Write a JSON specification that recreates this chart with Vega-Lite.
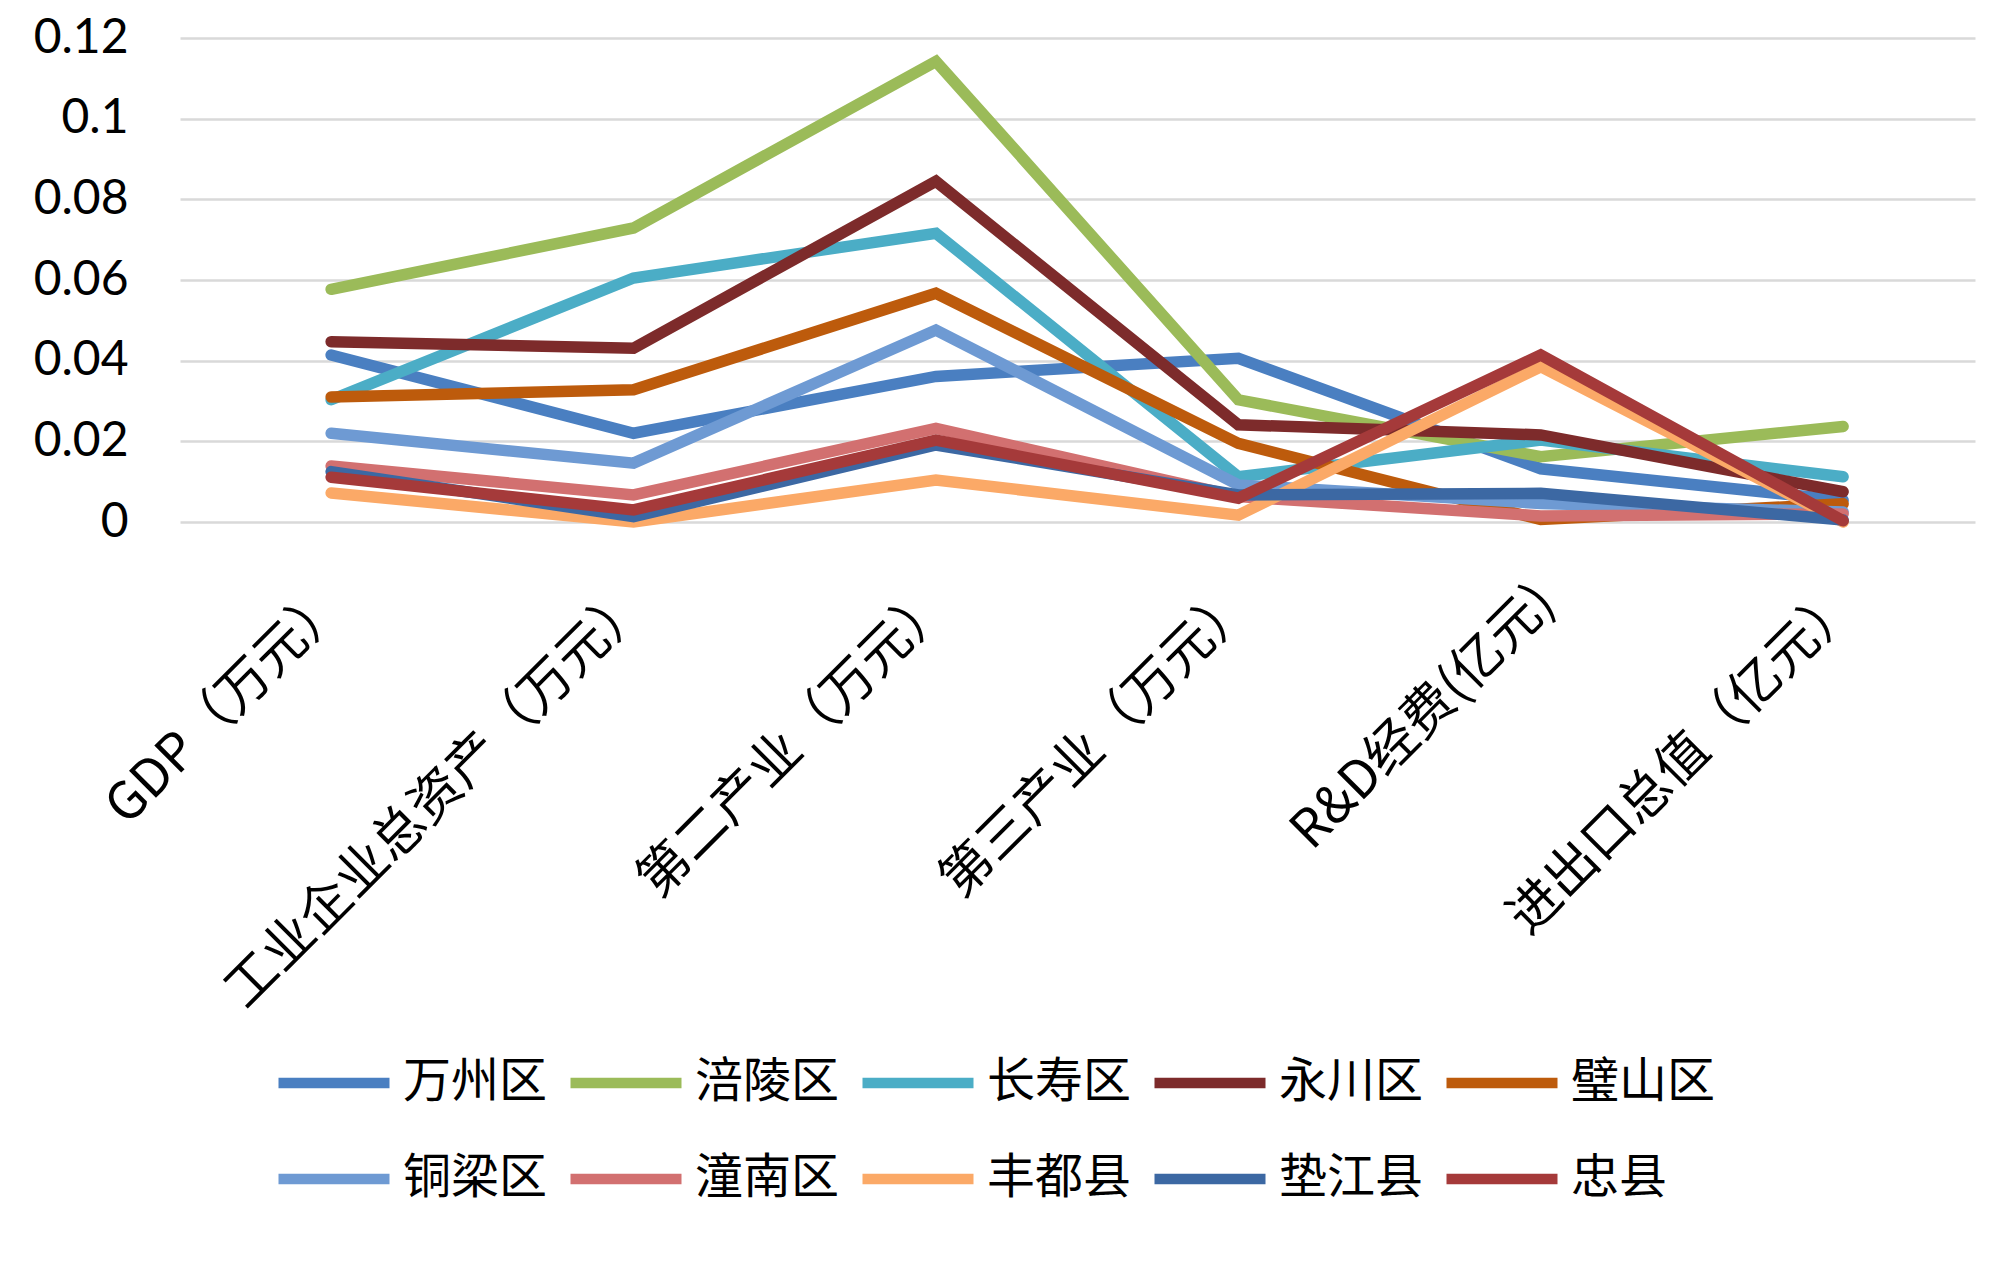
{
  "$schema": "https://vega.github.io/schema/vega-lite/v6.json",
  "autosize": {"type": "none"},
  "width": 1795,
  "height": 484,
  "padding": {"left": 180, "top": 38, "right": 25, "bottom": 743},
  "background": "white",
  "config": {
    "view": {"stroke": null},
    "font": "Noto Sans CJK SC"
  },
  "data": {
    "values": [
      {"region": "万州区", "category": "GDP（万元）", "value": 0.0414},
      {"region": "万州区", "category": "工业企业总资产（万元）", "value": 0.022},
      {"region": "万州区", "category": "第二产业（万元）", "value": 0.0361},
      {"region": "万州区", "category": "第三产业（万元）", "value": 0.0406},
      {"region": "万州区", "category": "R&D经费(亿元)", "value": 0.0132},
      {"region": "万州区", "category": "进出口总值（亿元）", "value": 0.0054},
      {"region": "涪陵区", "category": "GDP（万元）", "value": 0.0577},
      {"region": "涪陵区", "category": "工业企业总资产（万元）", "value": 0.0729},
      {"region": "涪陵区", "category": "第二产业（万元）", "value": 0.1142},
      {"region": "涪陵区", "category": "第三产业（万元）", "value": 0.0303},
      {"region": "涪陵区", "category": "R&D经费(亿元)", "value": 0.0162},
      {"region": "涪陵区", "category": "进出口总值（亿元）", "value": 0.0237},
      {"region": "长寿区", "category": "GDP（万元）", "value": 0.0303},
      {"region": "长寿区", "category": "工业企业总资产（万元）", "value": 0.0605},
      {"region": "长寿区", "category": "第二产业（万元）", "value": 0.0716},
      {"region": "长寿区", "category": "第三产业（万元）", "value": 0.0112},
      {"region": "长寿区", "category": "R&D经费(亿元)", "value": 0.0203},
      {"region": "长寿区", "category": "进出口总值（亿元）", "value": 0.0112},
      {"region": "永川区", "category": "GDP（万元）", "value": 0.0447},
      {"region": "永川区", "category": "工业企业总资产（万元）", "value": 0.0431},
      {"region": "永川区", "category": "第二产业（万元）", "value": 0.0845},
      {"region": "永川区", "category": "第三产业（万元）", "value": 0.0241},
      {"region": "永川区", "category": "R&D经费(亿元)", "value": 0.0216},
      {"region": "永川区", "category": "进出口总值（亿元）", "value": 0.0075},
      {"region": "璧山区", "category": "GDP（万元）", "value": 0.031},
      {"region": "璧山区", "category": "工业企业总资产（万元）", "value": 0.0328},
      {"region": "璧山区", "category": "第二产业（万元）", "value": 0.0567},
      {"region": "璧山区", "category": "第三产业（万元）", "value": 0.0195},
      {"region": "璧山区", "category": "R&D经费(亿元)", "value": 0.0006},
      {"region": "璧山区", "category": "进出口总值（亿元）", "value": 0.0045},
      {"region": "铜梁区", "category": "GDP（万元）", "value": 0.022},
      {"region": "铜梁区", "category": "工业企业总资产（万元）", "value": 0.0146},
      {"region": "铜梁区", "category": "第二产业（万元）", "value": 0.0476},
      {"region": "铜梁区", "category": "第三产业（万元）", "value": 0.0092},
      {"region": "铜梁区", "category": "R&D经费(亿元)", "value": 0.0046},
      {"region": "铜梁区", "category": "进出口总值（亿元）", "value": 0.0025},
      {"region": "潼南区", "category": "GDP（万元）", "value": 0.0139},
      {"region": "潼南区", "category": "工业企业总资产（万元）", "value": 0.0067},
      {"region": "潼南区", "category": "第二产业（万元）", "value": 0.0232},
      {"region": "潼南区", "category": "第三产业（万元）", "value": 0.0063},
      {"region": "潼南区", "category": "R&D经费(亿元)", "value": 0.0015},
      {"region": "潼南区", "category": "进出口总值（亿元）", "value": 0.002},
      {"region": "丰都县", "category": "GDP（万元）", "value": 0.0072},
      {"region": "丰都县", "category": "工业企业总资产（万元）", "value": 0.0},
      {"region": "丰都县", "category": "第二产业（万元）", "value": 0.0104},
      {"region": "丰都县", "category": "第三产业（万元）", "value": 0.0017},
      {"region": "丰都县", "category": "R&D经费(亿元)", "value": 0.0385},
      {"region": "丰都县", "category": "进出口总值（亿元）", "value": 0.0},
      {"region": "垫江县", "category": "GDP（万元）", "value": 0.0125},
      {"region": "垫江县", "category": "工业企业总资产（万元）", "value": 0.0013},
      {"region": "垫江县", "category": "第二产业（万元）", "value": 0.0191},
      {"region": "垫江县", "category": "第三产业（万元）", "value": 0.0067},
      {"region": "垫江县", "category": "R&D经费(亿元)", "value": 0.0071},
      {"region": "垫江县", "category": "进出口总值（亿元）", "value": 0.0005},
      {"region": "忠县", "category": "GDP（万元）", "value": 0.0111},
      {"region": "忠县", "category": "工业企业总资产（万元）", "value": 0.003},
      {"region": "忠县", "category": "第二产业（万元）", "value": 0.0203},
      {"region": "忠县", "category": "第三产业（万元）", "value": 0.0059},
      {"region": "忠县", "category": "R&D经费(亿元)", "value": 0.0414},
      {"region": "忠县", "category": "进出口总值（亿元）", "value": 0.0003}
    ]
  },
  "mark": {"type": "line", "strokeWidth": 11.5, "strokeCap": "round"},
  "encoding": {
    "x": {
      "field": "category",
      "type": "nominal",
      "sort": ["GDP（万元）", "工业企业总资产（万元）", "第二产业（万元）", "第三产业（万元）", "R&D经费(亿元)", "进出口总值（亿元）"],
      "scale": {"type": "point", "padding": 0.468, "align": 0.534},
      "axis": {
        "title": null,
        "domain": false,
        "ticks": false,
        "labelAngle": -45,
        "labelAlign": "right",
        "labelBaseline": "middle",
        "labelPadding": 72,
        "labelOffset": 5,
        "labelFont": "Noto Sans CJK SC",
        "labelFontSize": 52,
        "labelColor": "#000000",
        "labelLimit": 1000
      }
    },
    "y": {
      "field": "value",
      "type": "quantitative",
      "scale": {"domain": [0, 0.12], "nice": false, "zero": true},
      "axis": {
        "title": null,
        "values": [0, 0.02, 0.04, 0.06, 0.08, 0.1, 0.12],
        "format": ".2~f",
        "domain": false,
        "ticks": false,
        "grid": true,
        "gridColor": "#D9D9D9",
        "gridWidth": 2.5,
        "labelPadding": 52,
        "labelFont": "Lato",
        "labelFontSize": 48,
        "labelColor": "#000000"
      }
    },
    "color": {
      "field": "region",
      "type": "nominal",
      "sort": ["万州区", "涪陵区", "长寿区", "永川区", "璧山区", "铜梁区", "潼南区", "丰都县", "垫江县", "忠县"],
      "scale": {
        "domain": ["万州区", "涪陵区", "长寿区", "永川区", "璧山区", "铜梁区", "潼南区", "丰都县", "垫江县", "忠县"],
        "range": ["#4A7FC1", "#9BBB59", "#4BADC6", "#7D2B2B", "#BD5B0C", "#6E9AD3", "#D27070", "#FBA967", "#3C68A3", "#A53A3A"]
      },
      "legend": {
        "title": null,
        "orient": "none",
        "legendX": 93,
        "legendY": 984,
        "direction": "horizontal",
        "columns": 5,
        "symbolType": "stroke",
        "symbolSize": 12321,
        "symbolStrokeWidth": 10.5,
        "labelFont": "Noto Sans CJK SC",
        "labelFontSize": 48,
        "labelColor": "#000000",
        "labelOffset": 8,
        "labelLimit": 400,
        "columnPadding": 1,
        "rowPadding": 11,
        "padding": 0
      }
    }
  }
}
